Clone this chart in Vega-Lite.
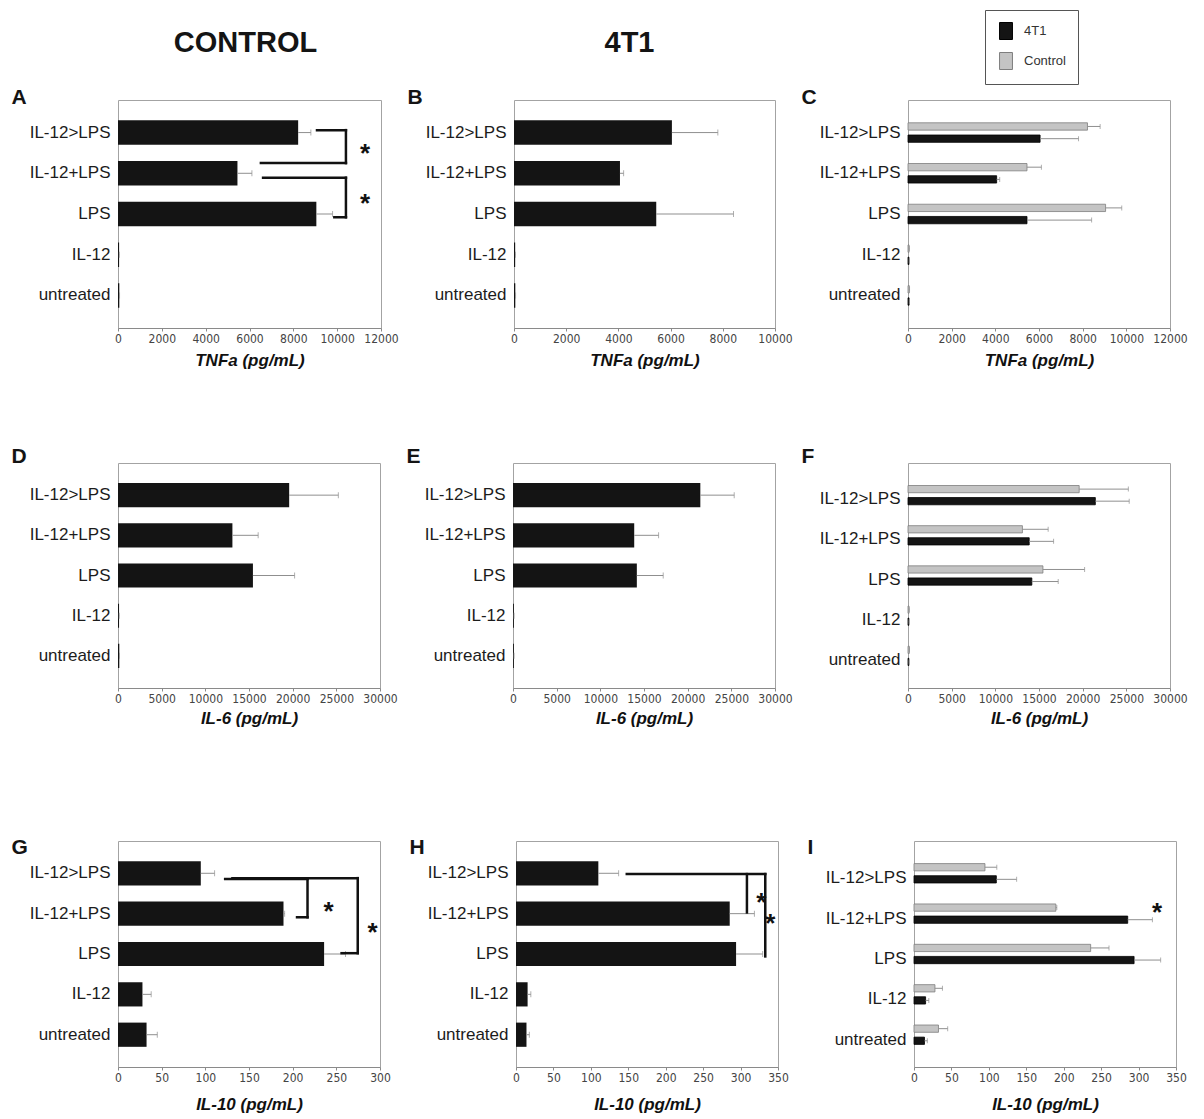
{
  "$schema": "https://vega.github.io/schema/vega-lite/v6.json",
  "background": "white",
  "padding": {"left": 10, "top": 9, "right": 5, "bottom": 5},
  "datasets": {
    "cyto": [
      {"cytokine": "TNFa", "group": "Control", "treatment": "IL-12>LPS", "mean": 8220, "hi": 8800},
      {"cytokine": "TNFa", "group": "Control", "treatment": "IL-12+LPS", "mean": 5450, "hi": 6110},
      {"cytokine": "TNFa", "group": "Control", "treatment": "LPS", "mean": 9050, "hi": 9790},
      {"cytokine": "TNFa", "group": "Control", "treatment": "IL-12", "mean": 50, "hi": 60},
      {"cytokine": "TNFa", "group": "Control", "treatment": "untreated", "mean": 60, "hi": 70},
      {"cytokine": "TNFa", "group": "4T1", "treatment": "IL-12>LPS", "mean": 6050, "hi": 7810},
      {"cytokine": "TNFa", "group": "4T1", "treatment": "IL-12+LPS", "mean": 4060, "hi": 4200},
      {"cytokine": "TNFa", "group": "4T1", "treatment": "LPS", "mean": 5450, "hi": 8410},
      {"cytokine": "TNFa", "group": "4T1", "treatment": "IL-12", "mean": 45, "hi": 55},
      {"cytokine": "TNFa", "group": "4T1", "treatment": "untreated", "mean": 50, "hi": 60},
      {"cytokine": "IL-6", "group": "Control", "treatment": "IL-12>LPS", "mean": 19600, "hi": 25230},
      {"cytokine": "IL-6", "group": "Control", "treatment": "IL-12+LPS", "mean": 13100, "hi": 16050},
      {"cytokine": "IL-6", "group": "Control", "treatment": "LPS", "mean": 15450, "hi": 20220},
      {"cytokine": "IL-6", "group": "Control", "treatment": "IL-12", "mean": 120, "hi": 140},
      {"cytokine": "IL-6", "group": "Control", "treatment": "untreated", "mean": 150, "hi": 170},
      {"cytokine": "IL-6", "group": "4T1", "treatment": "IL-12>LPS", "mean": 21450, "hi": 25330},
      {"cytokine": "IL-6", "group": "4T1", "treatment": "IL-12+LPS", "mean": 13880, "hi": 16670},
      {"cytokine": "IL-6", "group": "4T1", "treatment": "LPS", "mean": 14180, "hi": 17200},
      {"cytokine": "IL-6", "group": "4T1", "treatment": "IL-12", "mean": 100, "hi": 120},
      {"cytokine": "IL-6", "group": "4T1", "treatment": "untreated", "mean": 100, "hi": 120},
      {"cytokine": "IL-10", "group": "Control", "treatment": "IL-12>LPS", "mean": 94.8, "hi": 110.6},
      {"cytokine": "IL-10", "group": "Control", "treatment": "IL-12+LPS", "mean": 189.5, "hi": 190.8},
      {"cytokine": "IL-10", "group": "Control", "treatment": "LPS", "mean": 236, "hi": 260.5},
      {"cytokine": "IL-10", "group": "Control", "treatment": "IL-12", "mean": 28, "hi": 38},
      {"cytokine": "IL-10", "group": "Control", "treatment": "untreated", "mean": 32.7, "hi": 45},
      {"cytokine": "IL-10", "group": "4T1", "treatment": "IL-12>LPS", "mean": 110, "hi": 137.1},
      {"cytokine": "IL-10", "group": "4T1", "treatment": "IL-12+LPS", "mean": 285.5, "hi": 318.5},
      {"cytokine": "IL-10", "group": "4T1", "treatment": "LPS", "mean": 294, "hi": 329.5},
      {"cytokine": "IL-10", "group": "4T1", "treatment": "IL-12", "mean": 15.5, "hi": 19.8},
      {"cytokine": "IL-10", "group": "4T1", "treatment": "untreated", "mean": 14, "hi": 17.8}
    ],
    "brk": [
      {"panel": "A", "x": 9080, "x2": 10400, "y": -0.06, "y2": -0.06},
      {"panel": "A", "x": 10400, "x2": 10400, "y": -0.06, "y2": 0.75},
      {"panel": "A", "x": 6520, "x2": 10400, "y": 0.75, "y2": 0.75},
      {"panel": "A", "x": 6620, "x2": 10400, "y": 1.11, "y2": 1.11},
      {"panel": "A", "x": 10400, "x2": 10400, "y": 1.11, "y2": 2.08},
      {"panel": "A", "x": 9870, "x2": 10400, "y": 2.08, "y2": 2.08},
      {"panel": "G", "x": 122.7, "x2": 217, "y": 0.14, "y2": 0.14},
      {"panel": "G", "x": 217, "x2": 217, "y": 0.14, "y2": 1.09},
      {"panel": "G", "x": 205, "x2": 217, "y": 1.09, "y2": 1.09},
      {"panel": "G", "x": 131, "x2": 274.5, "y": 0.12, "y2": 0.12},
      {"panel": "G", "x": 274.5, "x2": 274.5, "y": 0.12, "y2": 1.98},
      {"panel": "G", "x": 256, "x2": 274.5, "y": 1.98, "y2": 1.98},
      {"panel": "H", "x": 148, "x2": 333, "y": 0.02, "y2": 0.02},
      {"panel": "H", "x": 308.5, "x2": 308.5, "y": 0.02, "y2": 0.97},
      {"panel": "H", "x": 333, "x2": 333, "y": 0.02, "y2": 2.06}
    ],
    "stars": [
      {"panel": "A", "x": 11270, "y": 0.37},
      {"panel": "A", "x": 11270, "y": 1.61},
      {"panel": "G", "x": 241, "y": 0.82},
      {"panel": "G", "x": 291.6, "y": 1.34},
      {"panel": "H", "x": 327.8, "y": 0.59},
      {"panel": "H", "x": 339.6, "y": 1.11},
      {"panel": "I", "x": 324.6, "y": 0.83}
    ]
  },
  "config": {
    "view": {"stroke": "#a3a3a3", "strokeWidth": 1},
    "font": "Liberation Sans",
    "axis": {"grid": false},
    "axisX": {"domainColor": "#8a8a8a", "tickColor": "#8a8a8a", "tickSize": 3, "labelFont": "Liberation Sans Narrow, Arial Narrow, DejaVu Sans Condensed, Liberation Sans, sans-serif", "labelFontSize": 12, "labelColor": "#444444", "labelPadding": 2, "labelFlush": false, "labelOverlap": false, "titleFont": "Liberation Sans", "titleFontSize": 17, "titleFontWeight": "bold", "titleFontStyle": "italic", "titleColor": "#111111"},
    "axisY": {"domain": false, "ticks": false, "labelFont": "Liberation Sans", "labelFontSize": 17, "labelColor": "#1c1c1c", "labelPadding": 8, "titleAngle": 0, "titleX": -107, "titleAlign": "left", "titleBaseline": "alphabetic", "titleFont": "Liberation Sans", "titleFontSize": 21, "titleFontWeight": "bold", "titleColor": "#141414"}
  },
  "spacing": 75,
  "resolve": {"scale": {"fill": "independent", "stroke": "independent", "yOffset": "independent"}, "legend": {"fill": "independent", "stroke": "independent"}},
  "vconcat": [
    {
      "hconcat": [
        {
          "width": 263, "height": 228,
          "title": {"text": "CONTROL", "anchor": "middle", "frame": "group", "dx": -4, "offset": 5, "baseline": "alphabetic", "fontSize": 29, "fontWeight": "bold", "font": "Liberation Sans", "color": "#141414"},
          "layer": [
            {
              "data": {"name": "cyto"},
              "transform": [{"filter": {"and": [{"field": "cytokine", "equal": "TNFa"}, {"field": "group", "equal": "Control"}]}}],
              "encoding": {"y": {"field": "treatment", "type": "nominal", "sort": ["IL-12>LPS", "IL-12+LPS", "LPS", "IL-12", "untreated"], "scale": {"paddingInner": 0.4, "paddingOuter": 0.5}, "axis": {"title": "A", "titleY": 3}}},
              "layer": [
                {"mark": {"type": "bar", "fill": "#141414"}, "encoding": {"x": {"field": "mean", "type": "quantitative", "scale": {"domain": [0, 12000], "nice": false}, "axis": {"title": "TNFa (pg/mL)", "values": [0, 2000, 4000, 6000, 8000, 10000, 12000], "format": "d", "titlePadding": 8}}}},
                {"mark": {"type": "rule", "color": "#8f8f8f", "strokeWidth": 1}, "encoding": {"x": {"field": "mean", "type": "quantitative", "scale": {"domain": [0, 12000], "nice": false}, "axis": {"title": "TNFa (pg/mL)", "values": [0, 2000, 4000, 6000, 8000, 10000, 12000], "format": "d", "titlePadding": 8}}, "x2": {"field": "hi"}}},
                {"mark": {"type": "tick", "color": "#8f8f8f", "thickness": 1, "size": 6}, "encoding": {"x": {"field": "hi", "type": "quantitative", "scale": {"domain": [0, 12000], "nice": false}, "axis": {"title": "TNFa (pg/mL)", "values": [0, 2000, 4000, 6000, 8000, 10000, 12000], "format": "d", "titlePadding": 8}}}}
              ]
            },
            {
              "layer": [
                {"data": {"name": "brk"}, "transform": [{"filter": {"field": "panel", "equal": "A"}}], "mark": {"type": "rule", "color": "#111111", "strokeWidth": 2.5, "strokeCap": "square"}, "encoding": {"x": {"field": "x", "type": "quantitative", "scale": {"domain": [0, 12000], "nice": false}, "axis": {"title": "TNFa (pg/mL)", "values": [0, 2000, 4000, 6000, 8000, 10000, 12000], "format": "d", "titlePadding": 8}}, "x2": {"field": "x2"}, "y": {"field": "y", "type": "quantitative", "scale": {"domain": [-0.8, 4.8], "reverse": true, "nice": false, "zero": false}, "axis": null}, "y2": {"field": "y2"}}},
                {"data": {"name": "stars"}, "transform": [{"filter": {"field": "panel", "equal": "A"}}], "mark": {"type": "text", "text": "*", "fontSize": 26, "fontWeight": "bold", "font": "Liberation Sans", "color": "#111111", "dy": 6}, "encoding": {"x": {"field": "x", "type": "quantitative", "scale": {"domain": [0, 12000], "nice": false}, "axis": {"title": "TNFa (pg/mL)", "values": [0, 2000, 4000, 6000, 8000, 10000, 12000], "format": "d", "titlePadding": 8}}, "y": {"field": "y", "type": "quantitative", "scale": {"domain": [-0.8, 4.8], "reverse": true, "nice": false, "zero": false}, "axis": null}}}
              ]
            }
          ],
          "resolve": {"scale": {"y": "independent"}, "axis": {"y": "independent"}}
        },
        {
          "width": 261, "height": 228,
          "title": {"text": "4T1", "anchor": "middle", "frame": "group", "dx": -15, "offset": 5, "baseline": "alphabetic", "fontSize": 29, "fontWeight": "bold", "font": "Liberation Sans", "color": "#141414"},
          "data": {"name": "cyto"},
          "transform": [{"filter": {"and": [{"field": "cytokine", "equal": "TNFa"}, {"field": "group", "equal": "4T1"}]}}],
          "encoding": {
            "y": {"field": "treatment", "type": "nominal", "sort": ["IL-12>LPS", "IL-12+LPS", "LPS", "IL-12", "untreated"], "scale": {"paddingInner": 0.4, "paddingOuter": 0.5}, "axis": {"title": "B", "titleY": 3}},
            "x": {"field": "mean", "type": "quantitative", "scale": {"domain": [0, 10000], "nice": false}, "axis": {"title": "TNFa (pg/mL)", "values": [0, 2000, 4000, 6000, 8000, 10000], "format": "d", "titlePadding": 8}}
          },
          "layer": [
            {"mark": {"type": "bar", "fill": "#141414"}},
            {"mark": {"type": "rule", "color": "#8f8f8f", "strokeWidth": 1}, "encoding": {"x2": {"field": "hi"}}},
            {"mark": {"type": "tick", "color": "#8f8f8f", "thickness": 1, "size": 6}, "encoding": {"x": {"field": "hi", "type": "quantitative", "scale": {"domain": [0, 10000], "nice": false}, "axis": {"title": "TNFa (pg/mL)", "values": [0, 2000, 4000, 6000, 8000, 10000], "format": "d", "titlePadding": 8}}}}
          ]
        },
        {
          "width": 262, "height": 228,
          "data": {"name": "cyto"},
          "transform": [{"filter": {"field": "cytokine", "equal": "TNFa"}}],
          "encoding": {
            "y": {"field": "treatment", "type": "nominal", "sort": ["IL-12>LPS", "IL-12+LPS", "LPS", "IL-12", "untreated"], "scale": {"paddingInner": 0.4, "paddingOuter": 0.5}, "axis": {"title": "C", "titleY": 3}},
            "yOffset": {"field": "group", "type": "nominal", "sort": ["Control", "4T1"], "scale": {"paddingInner": 0.4, "paddingOuter": 0.2}},
            "x": {"field": "mean", "type": "quantitative", "scale": {"domain": [0, 12000], "nice": false}, "axis": {"title": "TNFa (pg/mL)", "values": [0, 2000, 4000, 6000, 8000, 10000, 12000], "format": "d", "titlePadding": 8}}
          },
          "layer": [
            {"mark": {"type": "bar", "strokeWidth": 0.8}, "encoding": {
              "fill": {"field": "group", "type": "nominal", "scale": {"domain": ["4T1", "Control"], "range": ["#141414", "#c4c4c4"]}, "legend": {"orient": "none", "legendX": 77, "legendY": -90, "title": null, "direction": "vertical", "padding": 12, "strokeColor": "#555555", "symbolType": "M-0.76,-1L0.76,-1L0.76,1L-0.76,1Z", "symbolSize": 289, "symbolStrokeWidth": 1, "rowPadding": 8, "labelOffset": 9, "labelFontSize": 13, "labelFont": "Liberation Sans", "labelColor": "#333333"}},
              "stroke": {"field": "group", "type": "nominal", "scale": {"domain": ["4T1", "Control"], "range": ["#000000", "#7e7e7e"]}, "legend": {"orient": "none", "legendX": 77, "legendY": -90, "title": null, "direction": "vertical", "padding": 12, "strokeColor": "#555555", "symbolType": "M-0.76,-1L0.76,-1L0.76,1L-0.76,1Z", "symbolSize": 289, "symbolStrokeWidth": 1, "rowPadding": 8, "labelOffset": 9, "labelFontSize": 13, "labelFont": "Liberation Sans", "labelColor": "#333333"}}
            }},
            {"mark": {"type": "rule", "color": "#8f8f8f", "strokeWidth": 1}, "encoding": {"x2": {"field": "hi"}}},
            {"mark": {"type": "tick", "color": "#8f8f8f", "thickness": 1, "size": 5}, "encoding": {"x": {"field": "hi", "type": "quantitative", "scale": {"domain": [0, 12000], "nice": false}, "axis": {"title": "TNFa (pg/mL)", "values": [0, 2000, 4000, 6000, 8000, 10000, 12000], "format": "d", "titlePadding": 8}}}}
          ]
        }
      ],
      "spacing": 133,
      "bounds": "flush",
      "resolve": {"scale": {"fill": "independent", "stroke": "independent", "yOffset": "independent"}, "legend": {"fill": "independent", "stroke": "independent"}}
    },
    {
      "vconcat": [
        {
          "hconcat": [
            {
              "width": 262, "height": 225,
              "data": {"name": "cyto"},
              "transform": [{"filter": {"and": [{"field": "cytokine", "equal": "IL-6"}, {"field": "group", "equal": "Control"}]}}],
              "encoding": {
                "y": {"field": "treatment", "type": "nominal", "sort": ["IL-12>LPS", "IL-12+LPS", "LPS", "IL-12", "untreated"], "scale": {"paddingInner": 0.4, "paddingOuter": 0.5}, "axis": {"title": "D", "titleY": -1}},
                "x": {"field": "mean", "type": "quantitative", "scale": {"domain": [0, 30000], "nice": false}, "axis": {"title": "IL-6 (pg/mL)", "values": [0, 5000, 10000, 15000, 20000, 25000, 30000], "format": "d", "titlePadding": 6}}
              },
              "layer": [
                {"mark": {"type": "bar", "fill": "#141414"}},
                {"mark": {"type": "rule", "color": "#8f8f8f", "strokeWidth": 1}, "encoding": {"x2": {"field": "hi"}}},
                {"mark": {"type": "tick", "color": "#8f8f8f", "thickness": 1, "size": 6}, "encoding": {"x": {"field": "hi", "type": "quantitative", "scale": {"domain": [0, 30000], "nice": false}, "axis": {"title": "IL-6 (pg/mL)", "values": [0, 5000, 10000, 15000, 20000, 25000, 30000], "format": "d", "titlePadding": 6}}}}
              ]
            },
            {
              "width": 262, "height": 225,
              "data": {"name": "cyto"},
              "transform": [{"filter": {"and": [{"field": "cytokine", "equal": "IL-6"}, {"field": "group", "equal": "4T1"}]}}],
              "encoding": {
                "y": {"field": "treatment", "type": "nominal", "sort": ["IL-12>LPS", "IL-12+LPS", "LPS", "IL-12", "untreated"], "scale": {"paddingInner": 0.4, "paddingOuter": 0.5}, "axis": {"title": "E", "titleY": -1}},
                "x": {"field": "mean", "type": "quantitative", "scale": {"domain": [0, 30000], "nice": false}, "axis": {"title": "IL-6 (pg/mL)", "values": [0, 5000, 10000, 15000, 20000, 25000, 30000], "format": "d", "titlePadding": 6}}
              },
              "layer": [
                {"mark": {"type": "bar", "fill": "#141414"}},
                {"mark": {"type": "rule", "color": "#8f8f8f", "strokeWidth": 1}, "encoding": {"x2": {"field": "hi"}}},
                {"mark": {"type": "tick", "color": "#8f8f8f", "thickness": 1, "size": 6}, "encoding": {"x": {"field": "hi", "type": "quantitative", "scale": {"domain": [0, 30000], "nice": false}, "axis": {"title": "IL-6 (pg/mL)", "values": [0, 5000, 10000, 15000, 20000, 25000, 30000], "format": "d", "titlePadding": 6}}}}
              ]
            },
            {
              "width": 262, "height": 225,
              "data": {"name": "cyto"},
              "transform": [{"filter": {"field": "cytokine", "equal": "IL-6"}}],
              "encoding": {
                "y": {"field": "treatment", "type": "nominal", "sort": ["IL-12>LPS", "IL-12+LPS", "LPS", "IL-12", "untreated"], "scale": {"paddingInner": 0.4, "paddingOuter": 0.5}, "axis": {"title": "F", "titleY": -1, "labelOffset": 4}},
                "yOffset": {"field": "group", "type": "nominal", "sort": ["Control", "4T1"], "scale": {"paddingInner": 0.4, "paddingOuter": 0.2}},
                "x": {"field": "mean", "type": "quantitative", "scale": {"domain": [0, 30000], "nice": false}, "axis": {"title": "IL-6 (pg/mL)", "values": [0, 5000, 10000, 15000, 20000, 25000, 30000], "format": "d", "titlePadding": 6}}
              },
              "layer": [
                {"mark": {"type": "bar", "strokeWidth": 0.8}, "encoding": {
                  "fill": {"field": "group", "type": "nominal", "scale": {"domain": ["4T1", "Control"], "range": ["#141414", "#c4c4c4"]}, "legend": null},
                  "stroke": {"field": "group", "type": "nominal", "scale": {"domain": ["4T1", "Control"], "range": ["#000000", "#7e7e7e"]}, "legend": null}
                }},
                {"mark": {"type": "rule", "color": "#8f8f8f", "strokeWidth": 1}, "encoding": {"x2": {"field": "hi"}}},
                {"mark": {"type": "tick", "color": "#8f8f8f", "thickness": 1, "size": 5}, "encoding": {"x": {"field": "hi", "type": "quantitative", "scale": {"domain": [0, 30000], "nice": false}, "axis": {"title": "IL-6 (pg/mL)", "values": [0, 5000, 10000, 15000, 20000, 25000, 30000], "format": "d", "titlePadding": 6}}}}
              ]
            }
          ],
          "spacing": 133,
          "bounds": "flush",
          "resolve": {"scale": {"fill": "independent", "stroke": "independent", "yOffset": "independent"}, "legend": {"fill": "independent", "stroke": "independent"}}
        },
        {
          "hconcat": [
            {
              "width": 262, "height": 226,
              "layer": [
                {
                  "data": {"name": "cyto"},
                  "transform": [{"filter": {"and": [{"field": "cytokine", "equal": "IL-10"}, {"field": "group", "equal": "Control"}]}}],
                  "encoding": {
                    "y": {"field": "treatment", "type": "nominal", "sort": ["IL-12>LPS", "IL-12+LPS", "LPS", "IL-12", "untreated"], "scale": {"paddingInner": 0.4, "paddingOuter": 0.5}, "axis": {"title": "G", "titleY": 12}},
                    "x": {"field": "mean", "type": "quantitative", "scale": {"domain": [0, 300], "nice": false}, "axis": {"title": "IL-10 (pg/mL)", "values": [0, 50, 100, 150, 200, 250, 300], "format": "d", "titlePadding": 13}}
                  },
                  "layer": [
                    {"mark": {"type": "bar", "fill": "#141414"}},
                    {"mark": {"type": "rule", "color": "#8f8f8f", "strokeWidth": 1}, "encoding": {"x2": {"field": "hi"}}},
                    {"mark": {"type": "tick", "color": "#8f8f8f", "thickness": 1, "size": 6}, "encoding": {"x": {"field": "hi", "type": "quantitative", "scale": {"domain": [0, 300], "nice": false}, "axis": {"title": "IL-10 (pg/mL)", "values": [0, 50, 100, 150, 200, 250, 300], "format": "d", "titlePadding": 13}}}}
                  ]
                },
                {
                  "layer": [
                    {"data": {"name": "brk"}, "transform": [{"filter": {"field": "panel", "equal": "G"}}], "mark": {"type": "rule", "color": "#111111", "strokeWidth": 2.5, "strokeCap": "square"}, "encoding": {"x": {"field": "x", "type": "quantitative", "scale": {"domain": [0, 300], "nice": false}, "axis": {"title": "IL-10 (pg/mL)", "values": [0, 50, 100, 150, 200, 250, 300], "format": "d", "titlePadding": 13}}, "x2": {"field": "x2"}, "y": {"field": "y", "type": "quantitative", "scale": {"domain": [-0.8, 4.8], "reverse": true, "nice": false, "zero": false}, "axis": null}, "y2": {"field": "y2"}}},
                    {"data": {"name": "stars"}, "transform": [{"filter": {"field": "panel", "equal": "G"}}], "mark": {"type": "text", "text": "*", "fontSize": 26, "fontWeight": "bold", "font": "Liberation Sans", "color": "#111111", "dy": 6}, "encoding": {"x": {"field": "x", "type": "quantitative", "scale": {"domain": [0, 300], "nice": false}, "axis": {"title": "IL-10 (pg/mL)", "values": [0, 50, 100, 150, 200, 250, 300], "format": "d", "titlePadding": 13}}, "y": {"field": "y", "type": "quantitative", "scale": {"domain": [-0.8, 4.8], "reverse": true, "nice": false, "zero": false}, "axis": null}}}
                  ]
                }
              ],
              "resolve": {"scale": {"y": "independent"}, "axis": {"y": "independent"}}
            },
            {
              "width": 262, "height": 226,
              "layer": [
                {
                  "data": {"name": "cyto"},
                  "transform": [{"filter": {"and": [{"field": "cytokine", "equal": "IL-10"}, {"field": "group", "equal": "4T1"}]}}],
                  "encoding": {
                    "y": {"field": "treatment", "type": "nominal", "sort": ["IL-12>LPS", "IL-12+LPS", "LPS", "IL-12", "untreated"], "scale": {"paddingInner": 0.4, "paddingOuter": 0.5}, "axis": {"title": "H", "titleY": 12}},
                    "x": {"field": "mean", "type": "quantitative", "scale": {"domain": [0, 350], "nice": false}, "axis": {"title": "IL-10 (pg/mL)", "values": [0, 50, 100, 150, 200, 250, 300, 350], "format": "d", "titlePadding": 13}}
                  },
                  "layer": [
                    {"mark": {"type": "bar", "fill": "#141414"}},
                    {"mark": {"type": "rule", "color": "#8f8f8f", "strokeWidth": 1}, "encoding": {"x2": {"field": "hi"}}},
                    {"mark": {"type": "tick", "color": "#8f8f8f", "thickness": 1, "size": 6}, "encoding": {"x": {"field": "hi", "type": "quantitative", "scale": {"domain": [0, 350], "nice": false}, "axis": {"title": "IL-10 (pg/mL)", "values": [0, 50, 100, 150, 200, 250, 300, 350], "format": "d", "titlePadding": 13}}}}
                  ]
                },
                {
                  "layer": [
                    {"data": {"name": "brk"}, "transform": [{"filter": {"field": "panel", "equal": "H"}}], "mark": {"type": "rule", "color": "#111111", "strokeWidth": 2.5, "strokeCap": "square"}, "encoding": {"x": {"field": "x", "type": "quantitative", "scale": {"domain": [0, 350], "nice": false}, "axis": {"title": "IL-10 (pg/mL)", "values": [0, 50, 100, 150, 200, 250, 300, 350], "format": "d", "titlePadding": 13}}, "x2": {"field": "x2"}, "y": {"field": "y", "type": "quantitative", "scale": {"domain": [-0.8, 4.8], "reverse": true, "nice": false, "zero": false}, "axis": null}, "y2": {"field": "y2"}}},
                    {"data": {"name": "stars"}, "transform": [{"filter": {"field": "panel", "equal": "H"}}], "mark": {"type": "text", "text": "*", "fontSize": 26, "fontWeight": "bold", "font": "Liberation Sans", "color": "#111111", "dy": 6}, "encoding": {"x": {"field": "x", "type": "quantitative", "scale": {"domain": [0, 350], "nice": false}, "axis": {"title": "IL-10 (pg/mL)", "values": [0, 50, 100, 150, 200, 250, 300, 350], "format": "d", "titlePadding": 13}}, "y": {"field": "y", "type": "quantitative", "scale": {"domain": [-0.8, 4.8], "reverse": true, "nice": false, "zero": false}, "axis": null}}}
                  ]
                }
              ],
              "resolve": {"scale": {"y": "independent"}, "axis": {"y": "independent"}}
            },
            {
              "width": 262, "height": 226,
              "layer": [
                {
                  "data": {"name": "cyto"},
                  "transform": [{"filter": {"field": "cytokine", "equal": "IL-10"}}],
                  "encoding": {
                    "y": {"field": "treatment", "type": "nominal", "sort": ["IL-12>LPS", "IL-12+LPS", "LPS", "IL-12", "untreated"], "scale": {"paddingInner": 0.4, "paddingOuter": 0.5}, "axis": {"title": "I", "titleY": 12, "labelOffset": 5}},
                    "yOffset": {"field": "group", "type": "nominal", "sort": ["Control", "4T1"], "scale": {"paddingInner": 0.4, "paddingOuter": 0.2}},
                    "x": {"field": "mean", "type": "quantitative", "scale": {"domain": [0, 350], "nice": false}, "axis": {"title": "IL-10 (pg/mL)", "values": [0, 50, 100, 150, 200, 250, 300, 350], "format": "d", "titlePadding": 13}}
                  },
                  "layer": [
                    {"mark": {"type": "bar", "strokeWidth": 0.8}, "encoding": {
                      "fill": {"field": "group", "type": "nominal", "scale": {"domain": ["4T1", "Control"], "range": ["#141414", "#c4c4c4"]}, "legend": null},
                      "stroke": {"field": "group", "type": "nominal", "scale": {"domain": ["4T1", "Control"], "range": ["#000000", "#7e7e7e"]}, "legend": null}
                    }},
                    {"mark": {"type": "rule", "color": "#8f8f8f", "strokeWidth": 1}, "encoding": {"x2": {"field": "hi"}}},
                    {"mark": {"type": "tick", "color": "#8f8f8f", "thickness": 1, "size": 5}, "encoding": {"x": {"field": "hi", "type": "quantitative", "scale": {"domain": [0, 350], "nice": false}, "axis": {"title": "IL-10 (pg/mL)", "values": [0, 50, 100, 150, 200, 250, 300, 350], "format": "d", "titlePadding": 13}}}}
                  ]
                },
                {
                  "data": {"name": "stars"},
                  "transform": [{"filter": {"field": "panel", "equal": "I"}}],
                  "mark": {"type": "text", "text": "*", "fontSize": 26, "fontWeight": "bold", "font": "Liberation Sans", "color": "#111111", "dy": 6},
                  "encoding": {"x": {"field": "x", "type": "quantitative", "scale": {"domain": [0, 350], "nice": false}, "axis": {"title": "IL-10 (pg/mL)", "values": [0, 50, 100, 150, 200, 250, 300, 350], "format": "d", "titlePadding": 13}}, "y": {"field": "y", "type": "quantitative", "scale": {"domain": [-0.8, 4.8], "reverse": true, "nice": false, "zero": false}, "axis": null}}
                }
              ],
              "resolve": {"scale": {"y": "independent"}, "axis": {"y": "independent"}}
            }
          ],
          "spacing": 136,
          "bounds": "flush",
          "resolve": {"scale": {"fill": "independent", "stroke": "independent", "yOffset": "independent"}, "legend": {"fill": "independent", "stroke": "independent"}}
        }
      ],
      "spacing": 108,
      "resolve": {"scale": {"fill": "independent", "stroke": "independent", "yOffset": "independent"}, "legend": {"fill": "independent", "stroke": "independent"}}
    }
  ]
}
